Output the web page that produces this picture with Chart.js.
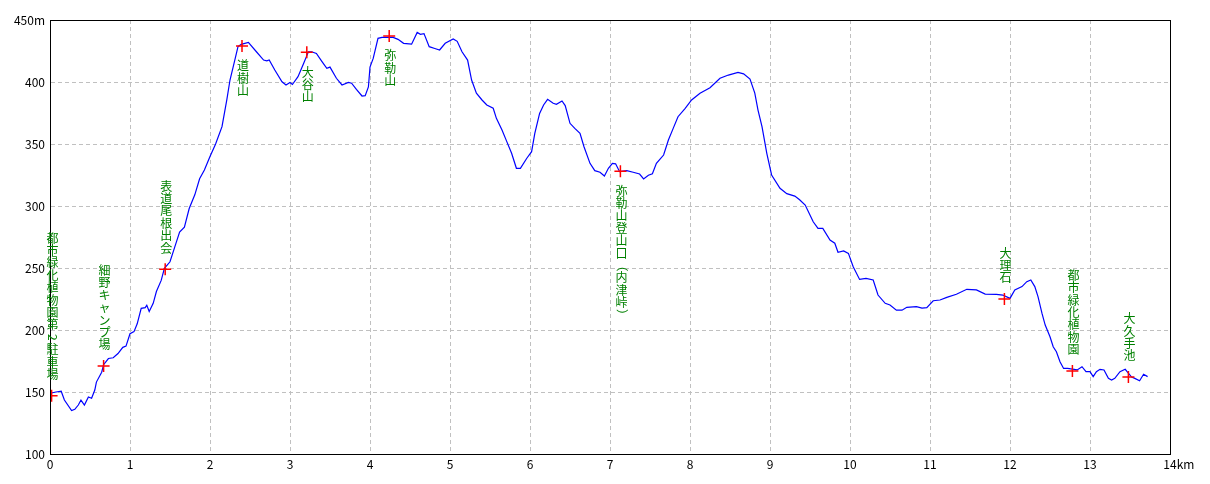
<!DOCTYPE html>
<html>
<head>
<meta charset="utf-8">
<script src="https://cdn.jsdelivr.net/npm/chart.js@4/dist/chart.umd.min.js"></script>
<style>
  html, body { margin: 0; padding: 0; background: #fff; }
  #wrap { width: 1210px; height: 484px; }
</style>
</head>
<body>
<div id="wrap"><canvas id="ProfileChart" width="1210" height="484"></canvas></div>
<script>
// distance (km) / elevation (m) along the track
var distKm = [0.00, 0.075, 0.14, 0.18, 0.27, 0.31, 0.354, 0.387, 0.43, 0.48, 0.52, 0.56, 0.58, 0.646, 0.67, 0.73, 0.79, 0.85, 0.91, 0.95,
    1.00, 1.05, 1.09, 1.14, 1.19, 1.21, 1.24, 1.29, 1.33, 1.39, 1.43, 1.50, 1.56, 1.62, 1.68, 1.74, 1.81, 1.87, 1.93, 2.00,
    2.07, 2.15, 2.21, 2.25, 2.31, 2.35, 2.39, 2.48, 2.58, 2.67, 2.71, 2.74, 2.81, 2.90, 2.95, 3.00, 3.03, 3.10, 3.17, 3.23,
    3.27, 3.33, 3.40, 3.46, 3.50, 3.58, 3.65, 3.73, 3.77, 3.83, 3.90, 3.94, 3.98, 4.00, 4.04, 4.10, 4.15, 4.29, 4.35, 4.42,
    4.52, 4.59, 4.63, 4.675, 4.74, 4.81, 4.87, 4.94, 5.04, 5.09, 5.15, 5.22, 5.27, 5.33, 5.40, 5.46, 5.54, 5.58, 5.65, 5.71,
    5.77, 5.83, 5.88, 5.96, 6.02, 6.06, 6.12, 6.17, 6.22, 6.29, 6.33, 6.40, 6.44, 6.50, 6.56, 6.625, 6.675, 6.75, 6.81, 6.875,
    6.93, 6.98, 7.03, 7.07, 7.12, 7.21, 7.29, 7.37, 7.42, 7.48, 7.53, 7.58, 7.67, 7.73, 7.79, 7.85, 7.94, 8.02, 8.125, 8.25,
    8.375, 8.48, 8.60, 8.67, 8.75, 8.81, 8.85, 8.90, 8.96, 9.02, 9.125, 9.21, 9.31, 9.37, 9.44, 9.54, 9.60, 9.66, 9.75, 9.81,
    9.85, 9.92, 9.98, 10.04, 10.12, 10.20, 10.29, 10.35, 10.44, 10.50, 10.58, 10.65, 10.71, 10.83, 10.90, 10.96, 11.04, 11.125, 11.21, 11.33,
    11.46, 11.58, 11.69, 11.83, 11.91, 12.00, 12.06, 12.15, 12.21, 12.26, 12.31, 12.35, 12.40, 12.44, 12.50, 12.54, 12.58, 12.625, 12.67, 12.72,
    12.84, 12.90, 12.95, 13.00, 13.04, 13.08, 13.125, 13.175, 13.23, 13.27, 13.31, 13.375, 13.44, 13.52, 13.56, 13.62, 13.67, 13.72];

var elevM = [149, 150, 150.6, 143.5, 135, 136, 139.5, 143.5, 139.5, 146, 145, 151.6, 158, 166, 172, 177, 177.6, 181, 186, 187,
    197, 198.7, 205, 217.5, 218, 220, 215, 221.5, 231, 240, 249.8, 255, 267, 279, 283, 298, 309, 322, 329, 340,
    350, 364, 385.5, 401.6, 417.7, 428.5, 430.4, 432, 424.4, 417.7, 417, 417.7, 409.7, 400.2, 397.6, 399.6, 398, 404.3, 415, 424.4,
    424.4, 423, 416.4, 411, 412, 403, 397.6, 399.6, 399, 394, 388.7, 389, 396, 412, 419, 435.2, 436, 436, 434.4, 431.2,
    430.5, 440, 438.5, 439, 428.5, 427, 425.8, 431.2, 434.7, 432.8, 424.4, 417.7, 401.6, 391, 385.5, 381.5, 378.8, 370.7, 361.3, 351.9,
    342.5, 330.4, 330.4, 338.5, 343.8, 358.6, 374.7, 381.5, 386, 382.8, 382, 384.7, 381, 366.7, 362.6, 358.6, 347.8, 334.4, 328.5, 327.2,
    324.2, 330.4, 334.4, 334, 327.7, 328.5, 327.2, 325.8, 321.8, 324.8, 326, 334.4, 341.1, 353.2, 362.6, 372, 378.8, 385.5, 391, 395.4,
    403, 405.6, 407.8, 406.6, 402.4, 391, 377.4, 364, 342.5, 325, 314.3, 310, 308, 305, 300.8, 287.3, 282, 282, 272.6, 270,
    262.7, 263.8, 261.8, 251, 240.8, 241.6, 240.3, 228.2, 221.5, 220.2, 216, 216, 218.3, 218.9, 217.6, 218, 223.6, 224.2, 226.3, 228.8,
    232.8, 232.3, 229, 228.8, 228.2, 225.5, 232.3, 235, 239, 240.3, 235, 226.9, 213.4, 204, 194.6, 186.5, 182.5, 174.4, 169, 169,
    167.8, 170.4, 166.4, 166.4, 162.4, 166.4, 168.3, 167.8, 161, 159.7, 161, 166.4, 168.3, 162, 161, 159.1, 164.3, 162.4];

// waypoints
var pointNames = ['都市緑化植物園第2駐車場', '細野キャンプ場', '表道尾根出会', '道樹山', '大谷山', '弥勒山',
    '弥勒山登山口（内津峠）', '大理石', '都市緑化植物園', '大久手池'];
var pointKm = [0.02, 0.67, 1.44, 2.40, 3.21, 4.24, 7.13, 11.93, 12.78, 13.48];
var pointElev = [147, 171, 249, 429, 424, 437, 328, 225, 167, 162];

// axis ticks
var xTicks = [0, 1, 2, 3, 4, 5, 6, 7, 8, 9, 10, 11, 12, 13, 14];
var yTicks = [100, 150, 200, 250, 300, 350, 400, 450];

var tickFont = { family: '"Noto Sans CJK JP", "DejaVu Sans", sans-serif', size: 12 };

// vertical waypoint names + box + "km" suffix
var profileExtras = {
    id: 'profileExtras',
    afterDatasetsDraw: function (chart) {
        var ctx = chart.ctx;
        var xs = chart.scales.x, ys = chart.scales.y;
        var area = chart.chartArea;
        var step = 12.4;

        ctx.save();
        ctx.strokeStyle = '#000';
        ctx.lineWidth = 1;
        ctx.strokeRect(area.left + 0.5, area.top + 0.5, area.right - area.left, area.bottom - area.top);

        ctx.fillStyle = '#008000';
        ctx.font = '12px "Noto Sans CJK JP", sans-serif';
        ctx.textAlign = 'center';
        pointNames.forEach(function (name, i) {
            var chars = Array.from(name);
            var px = xs.getPixelForValue(pointKm[i]) + 1;
            var py = ys.getPixelForValue(pointElev[i]);
            // high points get the name underneath, low ones above
            var top = pointElev[i] > 300 ? py + 13.5 : py - 15 - chars.length * step;
            chars.forEach(function (c, k) {
                var cy = top + k * step + step / 2;
                if (/[0-9（）]/.test(c)) {
                    ctx.save();
                    ctx.translate(px, cy);
                    ctx.rotate(Math.PI / 2);
                    ctx.textBaseline = 'middle';
                    ctx.fillText(c, 0, 0);
                    ctx.restore();
                } else {
                    ctx.textBaseline = 'middle';
                    ctx.fillText(c, px, cy);
                }
            });
        });

        // unit after the last x tick
        var items = xs.getLabelItems();
        var last = items[items.length - 1];
        var opts = last.options;
        ctx.fillStyle = '#000';
        ctx.font = '12px ' + tickFont.family;
        var w = ctx.measureText('14').width;
        ctx.textAlign = 'left';
        ctx.textBaseline = opts.textBaseline;
        ctx.fillText('km', opts.translation[0] + w / 2, opts.translation[1] + (last.textOffset || 0));
        ctx.restore();
    }
};

var ctx = document.getElementById('ProfileChart').getContext('2d');
window.profileChart = new Chart(ctx, {
    type: 'scatter',
    data: {
        datasets: [{
            label: '標高',
            data: distKm.map(function (d, i) { return { x: d, y: elevM[i] }; }),
            showLine: true,
            borderColor: '#0000ff',
            borderWidth: 1.2,
            pointRadius: 0,
            tension: 0,
            order: 2
        }, {
            label: '地点',
            data: pointKm.map(function (d, i) { return { x: d, y: pointElev[i] }; }),
            pointStyle: 'cross',
            pointRadius: 6,
            borderColor: '#ff0000',
            backgroundColor: '#ff0000',
            borderWidth: 1.5,
            order: 1
        }]
    },
    options: {
        responsive: false,
        animation: false,
        layout: { padding: { top: 20, right: 40, left: 0, bottom: 0 } },
        plugins: { legend: { display: false }, tooltip: { enabled: false } },
        scales: {
            x: {
                type: 'linear',
                min: 0,
                max: 14,
                afterBuildTicks: function (scale) {
                    scale.ticks = xTicks.map(function (v) { return { value: v }; });
                },
                afterFit: function (scale) { scale.height = 30; },
                ticks: { color: '#000', font: tickFont, padding: 3, maxRotation: 0 },
                grid: { color: '#c0c0c0', drawTicks: false },
                border: { display: true, color: '#000', width: 1, dash: [4, 3] }
            },
            y: {
                min: 100,
                max: 450,
                afterBuildTicks: function (scale) {
                    scale.ticks = yTicks.map(function (v) { return { value: v }; });
                },
                afterFit: function (scale) { scale.width = 50; },
                ticks: {
                    color: '#000',
                    font: tickFont,
                    padding: 5,
                    callback: function (v) { return v === 450 ? '450m' : v; }
                },
                grid: { color: '#c0c0c0', drawTicks: false },
                border: { display: true, color: '#000', width: 1, dash: [4, 3] }
            }
        }
    },
    plugins: [profileExtras]
});
</script>
</body>
</html>
